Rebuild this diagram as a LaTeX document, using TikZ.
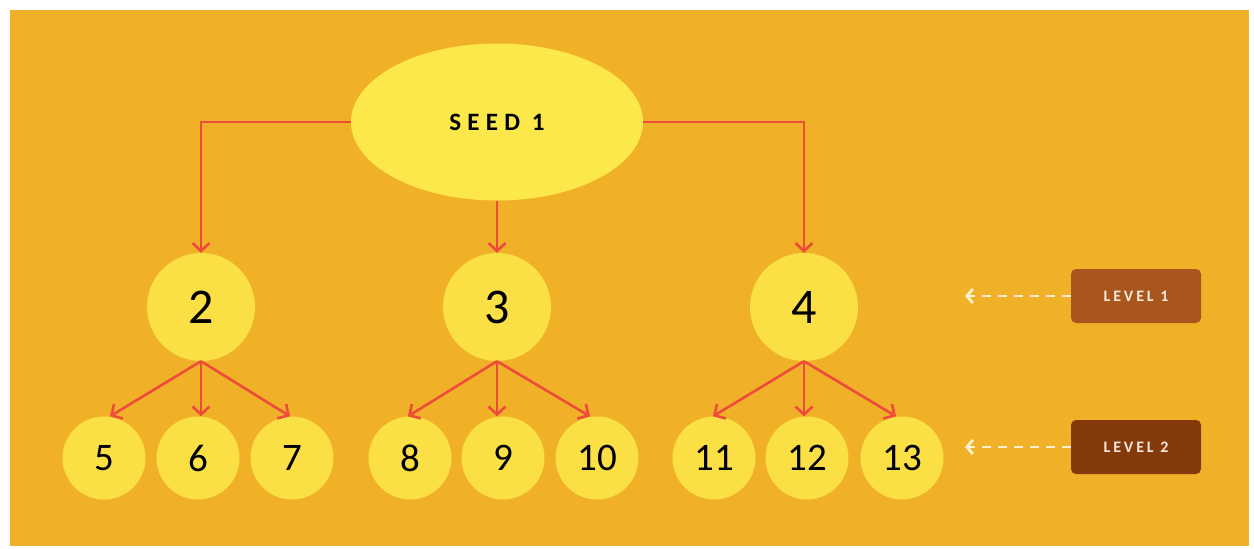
\documentclass[tikz,border=0pt]{standalone}
\usepackage{fontspec}
\setmainfont{Carlito}
\usetikzlibrary{arrows.meta,shapes.geometric}
\definecolor{bgorange}{HTML}{F0B128}
\definecolor{seedyel}{HTML}{FCE84A}
\definecolor{circyel}{HTML}{FADF45}
\definecolor{redline}{HTML}{EF4B3A}
\definecolor{lvlone}{HTML}{A9561E}
\definecolor{lvltwo}{HTML}{853A0B}
\definecolor{lvltext}{HTML}{F6E8DA}
\definecolor{dashcol}{HTML}{FCEFD2}
\tikzset{
  bigcirc/.style={circle,fill=circyel,minimum size=108pt,inner sep=0pt,font=\fontsize{50}{50}\selectfont},
  smallcirc/.style={circle,fill=circyel,minimum size=83pt,inner sep=0pt,font=\fontsize{39}{39}\selectfont},
  arr/.style={draw=redline,line width=2.6pt,-{Straight Barb[length=8pt,width=17pt,line width=2.6pt]}},
  lvlbox/.style={rounded corners=5pt,minimum width=130pt,minimum height=54pt,inner sep=0pt,text=lvltext,font=\fontsize{16}{16}\selectfont\bfseries\addfontfeatures{LetterSpace=18}},
  dasharr/.style={draw=dashcol,line width=2.8pt,dash pattern=on 9pt off 7pt,-{Straight Barb[length=6pt,width=14pt,line width=2.8pt]}}
}
\begin{document}
\begin{tikzpicture}[x=1pt,y=-1pt]
\useasboundingbox (0,0) rectangle (1254,549);
\fill[white] (0,0) rectangle (1254,549);
\fill[bgorange] (10,10) rectangle (1249,546);
\node[ellipse,fill=seedyel,minimum width=292pt,minimum height=157pt,inner sep=0pt,
  font=\fontsize{25}{25}\selectfont\bfseries\addfontfeatures{LetterSpace=25}] (seed) at (497,122) {SEED 1};
\node[bigcirc] (c2) at (201,307) {2};
\node[bigcirc] (c3) at (497,307) {3};
\node[bigcirc] (c4) at (804,307) {4};
\node[smallcirc] (c5) at (104,458) {5};
\node[smallcirc] (c6) at (198,458) {6};
\node[smallcirc] (c7) at (292,458) {7};
\node[smallcirc] (c8) at (410,458) {8};
\node[smallcirc] (c9) at (503,458) {9};
\node[smallcirc] (c10) at (597,458) {10};
\node[smallcirc] (c11) at (714,458) {11};
\node[smallcirc] (c12) at (807,458) {12};
\node[smallcirc] (c13) at (902,458) {13};
\draw[arr] (seed.west) -| (c2.north);
\draw[arr] (seed.south) -- (c3.north);
\draw[arr] (seed.east) -| (c4.north);
\draw[arr] (c2.south) -- ([xshift=6pt]c5.north);
\draw[arr] (c2.south) -- (c2.south |- c6.north);
\draw[arr] (c2.south) -- ([xshift=-2pt]c7.north);
\draw[arr] (c3.south) -- ([xshift=-2pt]c8.north);
\draw[arr] (c3.south) -- (c3.south |- c9.north);
\draw[arr] (c3.south) -- ([xshift=-7pt]c10.north);
\draw[arr] (c4.south) -- ([xshift=-1pt]c11.north);
\draw[arr] (c4.south) -- (c4.south |- c12.north);
\draw[arr] (c4.south) -- ([xshift=-6pt]c13.north);
\node[lvlbox,fill=lvlone] (l1) at (1136,296) {LEVEL 1};
\node[lvlbox,fill=lvltwo] (l2) at (1136,447) {LEVEL 2};
\coordinate (e1) at (965,296);
\coordinate (e2) at (965,447);
\draw[dasharr] (l1.west) -- (e1);
\draw[dasharr] (l2.west) -- (e2);
\end{tikzpicture}
\end{document}
